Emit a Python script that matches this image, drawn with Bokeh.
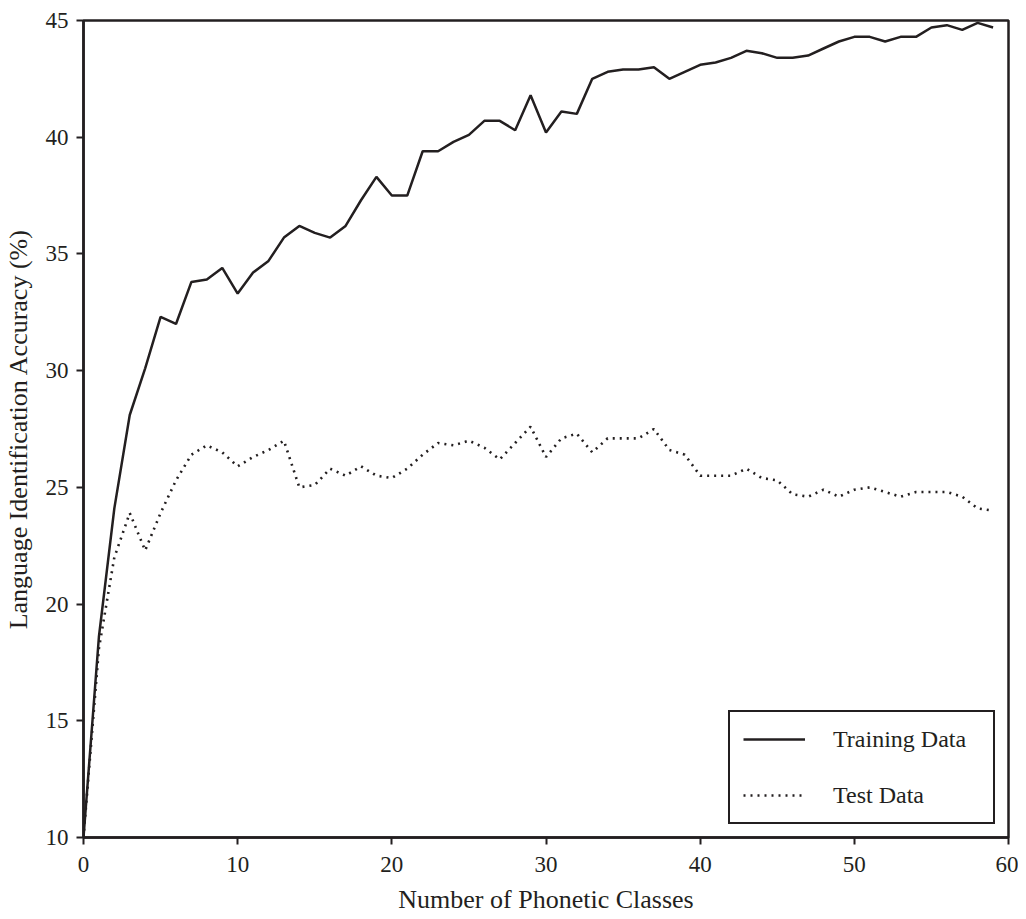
from bokeh.plotting import figure
from bokeh.models import Range1d, FixedTicker, Legend, LegendItem
from bokeh.embed import file_html
from bokeh.resources import INLINE

classes = list(range(0, 60))
training = [10.0, 18.6, 24.1, 28.1, 30.1, 32.3, 32.0, 33.8, 33.9, 34.4,
            33.3, 34.2, 34.7, 35.7, 36.2, 35.9, 35.7, 36.2, 37.3, 38.3,
            37.5, 37.5, 39.4, 39.4, 39.8, 40.1, 40.7, 40.7, 40.3, 41.8,
            40.2, 41.1, 41.0, 42.5, 42.8, 42.9, 42.9, 43.0, 42.5, 42.8,
            43.1, 43.2, 43.4, 43.7, 43.6, 43.4, 43.4, 43.5, 43.8, 44.1,
            44.3, 44.3, 44.1, 44.3, 44.3, 44.7, 44.8, 44.6, 44.9, 44.7]
test = [10.0, 18.1, 22.0, 23.9, 22.3, 23.9, 25.3, 26.4, 26.8, 26.5,
        25.9, 26.3, 26.6, 27.0, 25.0, 25.1, 25.8, 25.5, 25.9, 25.5,
        25.4, 25.8, 26.4, 26.9, 26.8, 27.0, 26.7, 26.2, 26.9, 27.6,
        26.3, 27.1, 27.3, 26.5, 27.1, 27.1, 27.1, 27.5, 26.6, 26.4,
        25.5, 25.5, 25.5, 25.8, 25.4, 25.3, 24.7, 24.6, 24.9, 24.6,
        24.9, 25.0, 24.8, 24.6, 24.8, 24.8, 24.8, 24.6, 24.1, 24.0]
x_ticks = [0, 10, 20, 30, 40, 50, 60]
y_ticks = [10, 15, 20, 25, 30, 35, 40, 45]
series_names = ["Training Data", "Test Data"]

INK = "#231f20"
FONT = "Liberation Serif"

p = figure(width=1018, height=917, output_backend="svg", toolbar_location=None,
           x_range=Range1d(0, 60), y_range=Range1d(10, 45),
           min_border_left=83, min_border_top=20, min_border_right=10,
           min_border_bottom=80)
p.grid.visible = False
p.outline_line_color = INK
p.outline_line_width = 2.5
p.outline_line_alpha = 1.0
p.background_fill_color = "white"
p.border_fill_color = "white"

for ax in (p.xaxis[0], p.yaxis[0]):
    ax.axis_line_color = INK
    ax.axis_line_width = 2.5
    ax.major_tick_line_color = INK
    ax.major_tick_line_width = 2
    ax.major_tick_out = 7
    ax.major_tick_in = 0
    ax.minor_tick_line_color = None
    ax.major_label_text_font = FONT
    ax.major_label_text_font_size = "23px"
    ax.major_label_text_color = INK
    ax.axis_label_text_font = FONT
    ax.axis_label_text_font_size = "26px"
    ax.axis_label_text_font_style = "normal"
    ax.axis_label_text_color = INK

p.xaxis[0].ticker = FixedTicker(ticks=x_ticks)
p.yaxis[0].ticker = FixedTicker(ticks=y_ticks)
p.xaxis[0].axis_label = "Number of Phonetic Classes"
p.yaxis[0].axis_label = "Language Identification Accuracy (%)"
p.xaxis[0].major_label_standoff = 12
p.yaxis[0].major_label_standoff = 8
p.xaxis[0].axis_label_standoff = 10
p.yaxis[0].axis_label_standoff = 10

r_train = p.line(classes, training, line_color=INK, line_width=2.5)
r_test = p.line(classes, test, line_color=INK, line_width=2.6, line_dash="2 5")

legend = Legend(items=[LegendItem(label=series_names[0], renderers=[r_train]),
                       LegendItem(label=series_names[1], renderers=[r_test])],
                location="bottom_right", margin=13, padding=13,
                glyph_width=62, glyph_height=28, spacing=28,
                label_standoff=28, label_width=147,
                label_text_font=FONT, label_text_font_size="24px",
                label_text_color=INK,
                border_line_color=INK, border_line_width=2.5,
                border_line_alpha=1.0,
                background_fill_color="white", background_fill_alpha=1.0)
p.add_layout(legend)

open("out.html", "w").write(file_html(p, INLINE))
